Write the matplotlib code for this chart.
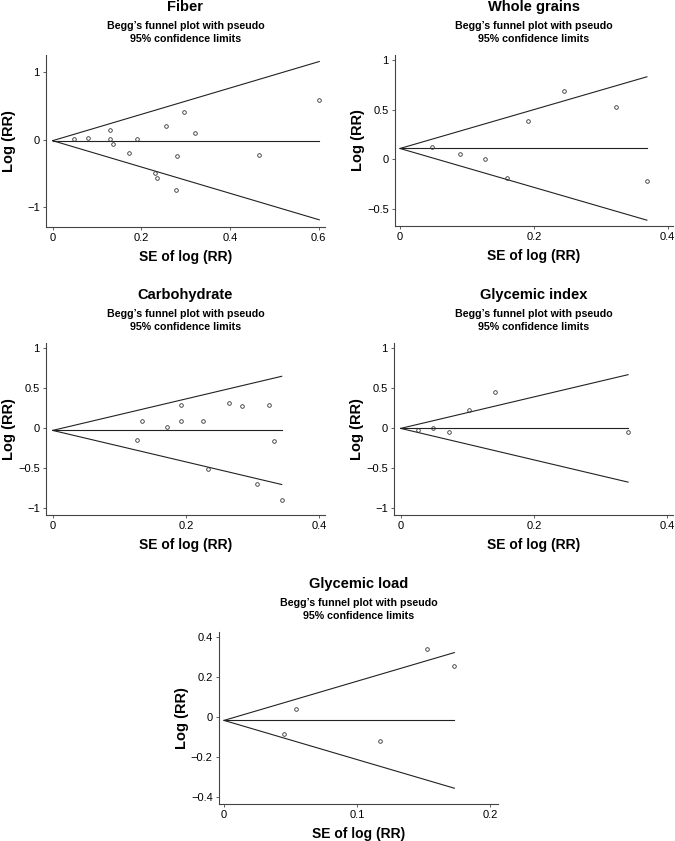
import matplotlib
matplotlib.use("Agg")
import matplotlib.pyplot as plt
import numpy as np

plt.rcParams['font.family'] = ['Liberation Sans', 'DejaVu Sans']

W, H = 675, 841

# Fiber
fiber_se = [0.049, 0.079, 0.130, 0.130, 0.136, 0.172, 0.191, 0.255, 0.297,
            0.321, 0.281, 0.230, 0.235, 0.277, 0.466, 0.601]
fiber_lrr = [0.015, 0.025, 0.149, 0.005, -0.07, -0.194, 0.005, 0.199, 0.413,
             0.104, -0.239, -0.502, -0.572, -0.751, -0.229, 0.597]
fiber_pooled = -0.015

# Whole grains
grains_se = [0.048, 0.089, 0.127, 0.160, 0.192, 0.245, 0.323, 0.369]
grains_lrr = [0.128, 0.060, 0.003, -0.185, 0.389, 0.691, 0.530, -0.218]
grains_pooled = 0.111

# Carbohydrate
carb_se = [0.126, 0.1335, 0.171, 0.192, 0.193, 0.2265, 0.2335, 0.265, 0.285,
           0.307, 0.325, 0.3325, 0.344]
carb_lrr = [-0.154, 0.092, 0.0125, 0.2875, 0.083, 0.092, -0.5125, 0.317, 0.279,
            -0.696, 0.2875, -0.167, -0.896]
carb_pooled = -0.029

# Glycemic index
gi_se = [0.0255, 0.048, 0.073, 0.1025, 0.141, 0.3415]
gi_lrr = [-0.029, 0.0, -0.054, 0.225, 0.45, -0.046]
gi_pooled = -0.004

# Glycemic load
gl_se = [0.0448, 0.054, 0.1168, 0.1528, 0.173]
gl_lrr = [-0.083, 0.04, -0.117, 0.343, 0.255]
gl_pooled = -0.015

panels = [
    # title, se, lrr, pooled, axes box px (left, top, right, bottom), xlim, ylim, xticks, yticks
    ("Fiber", fiber_se, fiber_lrr, fiber_pooled, (46, 55, 325, 227),
     (-0.015, 0.614), (-1.30, 1.26), [0, 0.2, 0.4, 0.6], [-1, 0, 1]),
    ("Whole grains", grains_se, grains_lrr, grains_pooled, (395, 55, 673, 226),
     (-0.0075, 0.408), (-0.671, 1.054), [0, 0.2, 0.4], [-0.5, 0, 0.5, 1]),
    ("Carbohydrate", carb_se, carb_lrr, carb_pooled, (46, 343, 325, 515),
     (-0.01, 0.409), (-1.083, 1.06), [0, 0.2, 0.4], [-1, -0.5, 0, 0.5, 1]),
    ("Glycemic index", gi_se, gi_lrr, gi_pooled, (394, 343, 673, 515),
     (-0.01, 0.409), (-1.083, 1.06), [0, 0.2, 0.4], [-1, -0.5, 0, 0.5, 1]),
    ("Glycemic load", gl_se, gl_lrr, gl_pooled, (219, 632, 498, 804),
     (-0.00375, 0.2058), (-0.433, 0.427), [0, 0.1, 0.2], [-0.4, -0.2, 0, 0.2, 0.4]),
]


def fmt(v):
    s = ("%g" % v)
    return s.replace("-", "\u2212")


fig = plt.figure(figsize=(W / 100, H / 100), dpi=100)

for title, se, lrr, pooled, box, xlim, ylim, xt, yt in panels:
    l, t, r, b = box
    ax = fig.add_axes([l / W, 1 - b / H, (r - l) / W, (b - t) / H])
    se = np.array(se)
    lrr = np.array(lrr)
    smax = se.max()
    xs = np.array([0, smax])
    ax.plot(xs, pooled + 1.96 * xs, color='#222222', lw=0.8)
    ax.plot(xs, pooled - 1.96 * xs, color='#222222', lw=0.8)
    ax.plot(xs, [pooled, pooled], color='#222222', lw=0.8)
    ax.plot(se, lrr, 'o', ms=2.6, mfc='none', mec='#333333', mew=0.6)
    ax.set_xlim(*xlim)
    ax.set_ylim(*ylim)
    ax.set_xticks(xt)
    ax.set_xticklabels([fmt(v) for v in xt])
    ax.set_yticks(yt)
    ax.set_yticklabels([fmt(v) for v in yt])
    for s in ['top', 'right']:
        ax.spines[s].set_visible(False)
    for s in ['left', 'bottom']:
        ax.spines[s].set_color('#444444')
        ax.spines[s].set_linewidth(0.8)
    ax.tick_params(labelsize=8, length=2.5, width=0.6, color='#444444', pad=2)

    cx = (l + r) / 2
    fig.text(cx / W, 1 - (t - 48) / H, title, ha='center', va='center',
             fontsize=10.5, fontweight='bold')
    fig.text(cx / W, 1 - (t - 29) / H, "Begg\u2019s funnel plot with pseudo",
             ha='center', va='center', fontsize=7.7, fontweight='bold')
    fig.text(cx / W, 1 - (t - 16) / H, "95% confidence limits",
             ha='center', va='center', fontsize=7.7, fontweight='bold')
    fig.text(cx / W, 1 - (b + 30) / H, "SE of log (RR)", ha='center', va='center',
             fontsize=10, fontweight='bold')
    fig.text((l - 37) / W, 1 - ((t + b) / 2) / H, "Log (RR)", ha='center', va='center',
             rotation=90, fontsize=10.5, fontweight='bold')

fig.savefig("out.png", dpi=100)
